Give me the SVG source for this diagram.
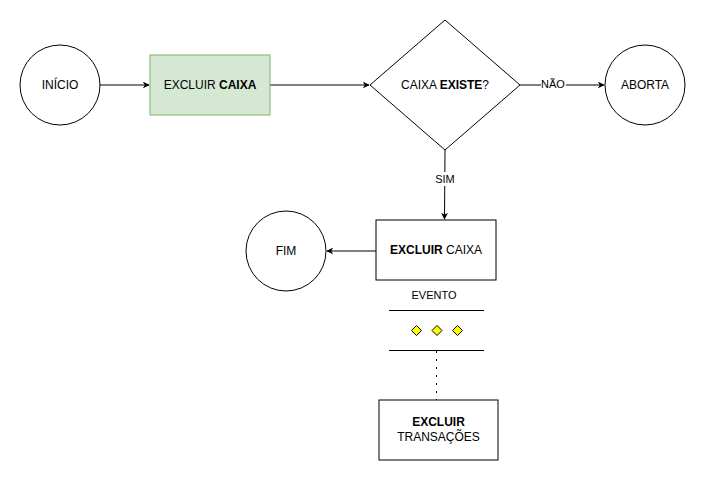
<svg xmlns="http://www.w3.org/2000/svg" width="706" height="481" viewBox="0 0 706 481">
<style>
text{font-family:"Liberation Sans",Arial,sans-serif;font-size:12px;fill:#000;text-anchor:middle;dominant-baseline:central}
.n{fill:#fff;stroke:#000;stroke-width:1}
.c{fill:none;stroke:#000;stroke-width:1}
.b{font-weight:bold}
.lbl{font-size:11px}
</style>
<defs>
<marker id="a" viewBox="0 0 10 10" refX="9" refY="5" markerWidth="7" markerHeight="7" orient="auto" markerUnits="userSpaceOnUse">
<path d="M0,0 L10,5 L0,10 L3,5 Z" fill="#000"/>
</marker>
</defs>
<rect width="706" height="481" fill="#fff"/>
<g id="connectors">
<path class="c" d="M100,85 H149" marker-end="url(#a)"/>
<path class="c" d="M270,85 H369" marker-end="url(#a)"/>
<path class="c" d="M520,85 H604" marker-end="url(#a)"/>
<rect x="541" y="78" width="25" height="13" fill="#fff"/>
<text class="lbl" x="553" y="84">NÃO</text>
<path class="c" d="M445,150 L444.5,219" marker-end="url(#a)"/>
<rect x="431" y="172" width="28" height="14" fill="#fff"/>
<text class="lbl" x="445" y="179">SIM</text>
<path class="c" d="M376,251 H327" marker-end="url(#a)"/>
<path class="c" d="M436.5,351 V400" stroke-width="2" stroke-dasharray="2,6"/>
</g>
<g id="inicio"><circle class="n" cx="60" cy="85" r="40"/><text x="60" y="85">INÍCIO</text></g>
<g id="excluir-caixa-1"><rect x="150" y="55" width="120" height="60" fill="#d5e8d4" stroke="#82b366"/><text x="210" y="85">EXCLUIR <tspan class="b">CAIXA</tspan></text></g>
<g id="decisao"><path class="n" d="M445,20 L520,85 L445,150 L370,85 Z"/><text x="445" y="85">CAIXA <tspan class="b">EXISTE</tspan>?</text></g>
<g id="aborta"><circle class="n" cx="645" cy="85" r="40"/><text x="645" y="85">ABORTA</text></g>
<g id="excluir-caixa-2"><rect class="n" x="376" y="220" width="120" height="60"/><text x="436" y="250"><tspan class="b">EXCLUIR</tspan> CAIXA</text></g>
<g id="fim"><circle class="n" cx="286" cy="251" r="40"/><text x="286" y="251">FIM</text></g>
<g id="evento">
<text class="lbl" x="434" y="295">EVENTO</text>
<path class="c" d="M389,310.5 H484 M389,350.5 H484"/>
<path d="M416.5,325.5 L421.5,330.5 L416.5,335.5 L411.5,330.5 Z M437,325.5 L442,330.5 L437,335.5 L432,330.5 Z M457.5,325.5 L462.5,330.5 L457.5,335.5 L452.5,330.5 Z" fill="#ffff00" stroke="#000" stroke-width="1"/>
</g>
<g id="excluir-transacoes"><rect class="n" x="379" y="400" width="119" height="60"/><text x="438.5" y="422" class="b">EXCLUIR</text><text x="438.5" y="437">TRANSAÇÕES</text></g>
</svg>
